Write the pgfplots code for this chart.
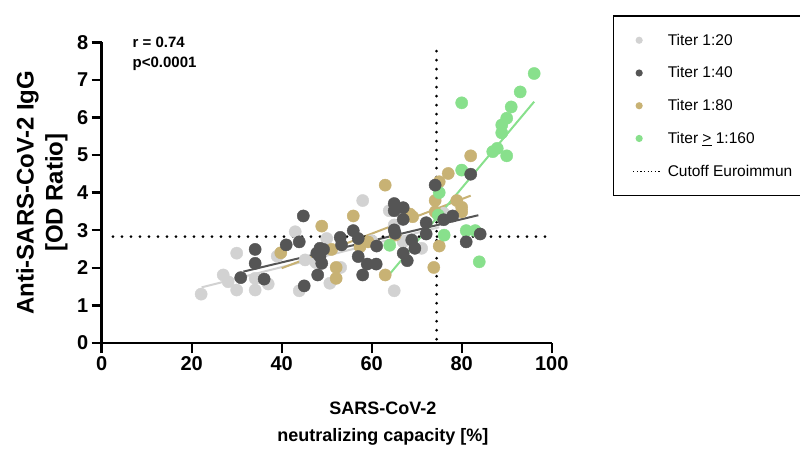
\documentclass[border=0pt]{standalone}
\usepackage{pgfplots}
\pgfplotsset{compat=1.18}
\usepackage{fontspec}
\setmainfont{Liberation Sans}
\definecolor{t20}{HTML}{D2D2D2}
\definecolor{t40}{HTML}{555555}
\definecolor{t80}{HTML}{C8B274}
\definecolor{t160}{HTML}{88E08C}

\begin{document}
\begin{tikzpicture}
\path[use as bounding box] (-101.7pt,-108pt) rectangle (698.3pt,343pt);
\begin{axis}[
    at={(0pt,0pt)}, anchor=south west,
    width=450pt, height=300.7pt, scale only axis,
    xmin=0, xmax=100, ymin=0, ymax=8,
    axis lines=left,
    axis line style={-, line width=2.4pt},
    xtick={0,20,...,100}, ytick={0,1,...,8},
    tick align=outside, major tick length=10pt,
    every tick/.style={black, line width=2.4pt},
    tick label style={font=\bfseries\fontsize{20}{20}\selectfont},
    /pgf/number format/assume math mode=true,
    clip=false,
    xlabel={SARS-CoV-2\\neutralizing capacity [\%]},
    xlabel style={at={(axis description cs:0.625,-0.195)}, anchor=north,
                  align=center, inner sep=0pt,
                  font=\bfseries\fontsize{18}{27}\selectfont},
    ylabel={Anti-SARS-CoV-2 IgG\\{}[OD Ratio]},
    ylabel style={at={(axis description cs:-0.133,0.5)}, anchor=center,
                  align=center, inner sep=0pt,
                  font=\bfseries\fontsize{24}{29}\selectfont},
    legend style={at={(1.136,1.09)}, anchor=north west,
                  draw=black, line width=1.3pt,
                  font=\fontsize{15.5}{18}\selectfont,
                  inner xsep=19pt, inner ysep=16pt, row sep=16pt,
                  /tikz/every odd column/.append style={column sep=4pt}},
    legend cell align=left,
]
% data points
\addplot[only marks, mark=*, mark size=6.1pt, color=t20, forget plot]
  coordinates {(22.1,1.30) (27.0,1.81) (28.1,1.63) (30.0,2.39) (30.0,1.41)
  (34.1,1.72) (34.1,1.41) (37.0,1.57) (39.0,2.31) (43.0,2.96) (43.9,1.39)
  (45.2,2.21) (47.6,2.14) (50.0,2.78) (50.7,1.59) (53.1,2.01) (58.0,3.79)
  (60.0,2.72) (63.9,3.52) (65.0,3.14) (65.0,1.39) (67.0,2.69) (71.1,2.52)
  (76.0,3.45)};
\addplot[only marks, mark=*, mark size=6.1pt, color=t80, forget plot]
  coordinates {(39.8,2.40) (48.9,3.11) (51.1,2.49) (52.1,2.01) (52.1,1.72)
  (55.9,3.38) (57.4,2.56) (59.2,2.69) (63.0,1.81) (63.0,4.20) (65.2,2.87)
  (68.5,3.43) (69.1,3.36) (73.8,2.01) (74.1,3.79) (74.1,3.49) (75.0,4.29)
  (75.0,2.58) (77.0,4.51) (78.9,3.79) (80.0,3.61) (80.0,3.49) (82.0,4.98)};
\addplot[only marks, mark=*, mark size=6.1pt, color=t160, forget plot]
  coordinates {(64.0,2.60) (74.8,3.40) (75.0,4.00) (76.1,2.87) (80.0,4.60)
  (80.0,6.39) (81.0,2.99) (83.0,2.99) (83.9,2.16) (86.9,5.09) (87.9,5.18)
  (88.9,5.59) (88.9,5.80) (90.0,5.98) (90.0,4.98) (91.0,6.28) (93.0,6.68)
  (96.1,7.17)};
\addplot[only marks, mark=*, mark size=6.1pt, color=t40, forget plot]
  coordinates {(30.9,1.74) (34.1,2.49) (34.1,2.12) (36.1,1.70) (41.0,2.61)
  (43.9,2.69) (44.8,3.38) (45.0,1.52) (47.8,2.39) (48.0,1.81) (48.5,2.52)
  (49.3,2.49) (48.5,2.30) (48.9,2.12) (53.0,2.81) (53.3,2.61) (55.9,2.99)
  (57.0,2.78) (57.0,2.30) (59.0,2.10) (61.0,2.10) (58.0,1.81) (61.1,2.58)
  (65.2,2.92) (65.0,3.01) (65.0,3.52) (65.0,3.71) (67.0,3.60) (67.0,3.29)
  (67.0,2.39) (67.9,2.19) (68.9,2.74) (69.6,2.52) (72.1,2.90) (72.1,3.20)
  (74.1,4.20) (76.0,3.28) (78.0,3.38) (81.0,2.69) (82.0,4.49) (84.1,2.90)};
% regression lines
\addplot[t20, line width=2pt, forget plot] coordinates {(22.2,1.48) (75,3.08)};
\addplot[t40, line width=2pt, forget plot] coordinates {(31.5,1.90) (83.7,3.40)};
\addplot[t80, line width=2pt, forget plot] coordinates {(40,1.99) (82,3.92)};
\addplot[t160, line width=2pt, forget plot] coordinates {(64.1,1.85) (96.1,6.42)};
% cutoffs
\addplot[black, line width=3pt, dash pattern=on 0pt off 9pt, line cap=round, forget plot]
  coordinates {(2.5,2.83) (100,2.83)};
\addplot[black, line width=3pt, dash pattern=on 0pt off 9pt, line cap=round, forget plot]
  coordinates {(74.4,0.1) (74.4,8)};
% legend
\addlegendimage{legend image code/.code={\path[draw=none] (0pt,-4pt) rectangle (28pt,4pt); \fill[t20, draw=none] (6pt,0pt) circle (3.6pt);}}
\addlegendentry{Titer 1:20}
\addlegendimage{legend image code/.code={\path[draw=none] (0pt,-4pt) rectangle (28pt,4pt); \fill[t40, draw=none] (6pt,0pt) circle (3.6pt);}}
\addlegendentry{Titer 1:40}
\addlegendimage{legend image code/.code={\path[draw=none] (0pt,-4pt) rectangle (28pt,4pt); \fill[t80, draw=none] (6pt,0pt) circle (3.6pt);}}
\addlegendentry{Titer 1:80}
\addlegendimage{legend image code/.code={\path[draw=none] (0pt,-4pt) rectangle (28pt,4pt); \fill[t160, draw=none] (6pt,0pt) circle (3.6pt);}}
\addlegendentry{Titer \underline{>} 1:160}
\addlegendimage{legend image code/.code={\path[draw=none] (0pt,-4pt) rectangle (28pt,4pt); \draw[black, line width=1.2pt, dash pattern=on 1.2pt off 2.4pt] (0pt,0pt) -- (28pt,0pt);}}
\addlegendentry{Cutoff Euroimmun}
% statistics
\node[anchor=base west, font=\bfseries\fontsize{15}{15}\selectfont] at (axis cs:6.1,7.87) {r = 0.74};
\node[anchor=base west, font=\bfseries\fontsize{15}{15}\selectfont] at (axis cs:6.1,7.34) {p<0.0001};
\end{axis}
\end{tikzpicture}
\end{document}
